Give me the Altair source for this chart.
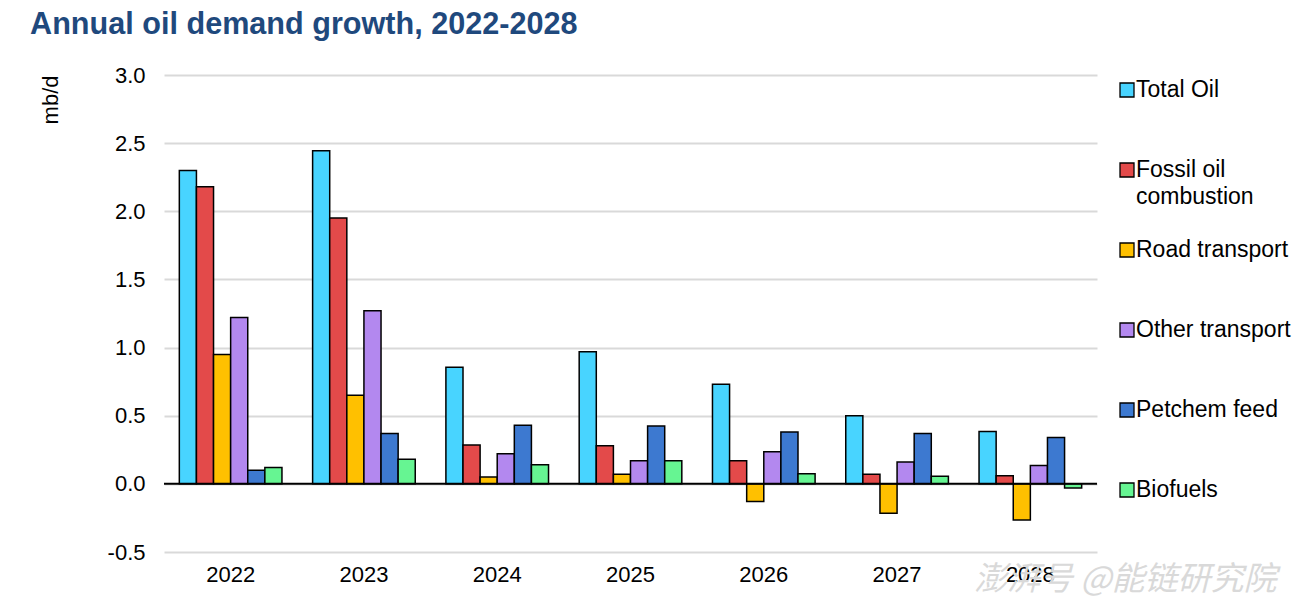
import altair as alt
import pandas as pd

years = ["2022", "2023", "2024", "2025", "2026", "2027", "2028"]
series = ["Total Oil", "Fossil oil combustion", "Road transport",
          "Other transport", "Petchem feed", "Biofuels"]
legend_labels = ["Total Oil", "Fossil oil\ncombustion", "Road transport",
                 "Other transport", "Petchem feed", "Biofuels"]
colors = ["#48D4FF", "#E34A4A", "#FFC000", "#B388EF", "#3D79D0", "#66F592"]

total_oil = [2.30, 2.445, 0.855, 0.97, 0.73, 0.50, 0.385]
fossil_oil = [2.18, 1.95, 0.285, 0.28, 0.17, 0.07, 0.06]
road_transport = [0.95, 0.65, 0.05, 0.07, -0.13, -0.215, -0.265]
other_transport = [1.22, 1.27, 0.22, 0.17, 0.235, 0.16, 0.135]
petchem_feed = [0.10, 0.37, 0.43, 0.425, 0.38, 0.37, 0.34]
biofuels = [0.12, 0.18, 0.14, 0.17, 0.075, 0.055, -0.03]

values = [total_oil, fossil_oil, road_transport, other_transport, petchem_feed, biofuels]
rows = []
for s, vals in zip(series, values):
    for y, v in zip(years, vals):
        rows.append({"year": y, "series": s, "value": v})
df = pd.DataFrame(rows)

FONT = "Liberation Sans"
color_scale = alt.Scale(domain=series, range=colors)

bars = alt.Chart(df).mark_bar(stroke="black", strokeWidth=1.5).encode(
    x=alt.X("year:N", sort=years, title=None,
            scale=alt.Scale(paddingInner=0.23, paddingOuter=0.115),
            axis=alt.Axis(labelAngle=0, labelFontSize=22, labelColor="black",
                          labelFont=FONT, domain=False, ticks=False, tickSize=0,
                          labelPadding=12, grid=False)),
    xOffset=alt.XOffset("series:N", sort=series),
    y=alt.Y("value:Q", title="mb/d",
            scale=alt.Scale(domain=[-0.5, 3.0], nice=False),
            axis=alt.Axis(values=[-0.5, 0, 0.5, 1.0, 1.5, 2.0, 2.5, 3.0],
                          labelExpr="datum.value < 0 ? '-' + format(-datum.value, '.1f') : format(datum.value, '.1f')",
                          labelFontSize=22, labelColor="black", labelFont=FONT,
                          domain=False, ticks=False, tickSize=0, labelPadding=19,
                          grid=True, gridColor="#d9d9d9", gridWidth=2,
                          titleFontSize=22, titleFont=FONT, titleFontWeight="normal",
                          titleColor="black", titleAnchor="end", titlePadding=45)),
    color=alt.Color("series:N", scale=color_scale, legend=None),
)

zero = alt.Chart(pd.DataFrame({"v": [0]})).mark_rule(color="black", strokeWidth=2).encode(
    y="v:Q")

watermark = alt.Chart(pd.DataFrame({"t": ["澎湃号  @能链研究院"]})).mark_text(
    font="Noto Sans CJK SC", fontSize=33, color="#d9d9d9", align="left",
    baseline="middle", fontStyle="italic").encode(
    text="t:N", x=alt.value(810), y=alt.value(505))

main = alt.layer(bars, zero, watermark).properties(width=933, height=477)

leg_df = pd.DataFrame({"series": series, "label": legend_labels})
leg_y = alt.Y("series:N", sort=series, axis=None,
              scale=alt.Scale(type="point", range=[15, 415], padding=0))
leg_sq = alt.Chart(leg_df).mark_square(size=196, stroke="black", strokeWidth=1.3,
                                       opacity=1).encode(
    y=leg_y, x=alt.value(30),
    color=alt.Color("series:N", scale=color_scale, legend=None))
leg_tx = alt.Chart(leg_df).mark_text(align="left", baseline="middle", fontSize=23,
                                     font=FONT, color="black", lineBreak="\n",
                                     lineHeight=27).encode(
    y=leg_y, x=alt.value(39), text="label:N")
legend = alt.layer(leg_sq, leg_tx).properties(width=180, height=477)

chart = alt.hconcat(main, legend, spacing=0, bounds="flush").properties(
    title=alt.TitleParams("Annual oil demand growth, 2022-2028", anchor="start",
                          fontSize=30.6, font=FONT, fontWeight="bold", color="#1F497D",
                          offset=23, dx=-9),
    padding={"left": 22, "top": 2, "right": 5, "bottom": 5},
).configure_view(stroke=None)

chart.save("out.html", embed_options={"renderer": "svg", "actions": False})
